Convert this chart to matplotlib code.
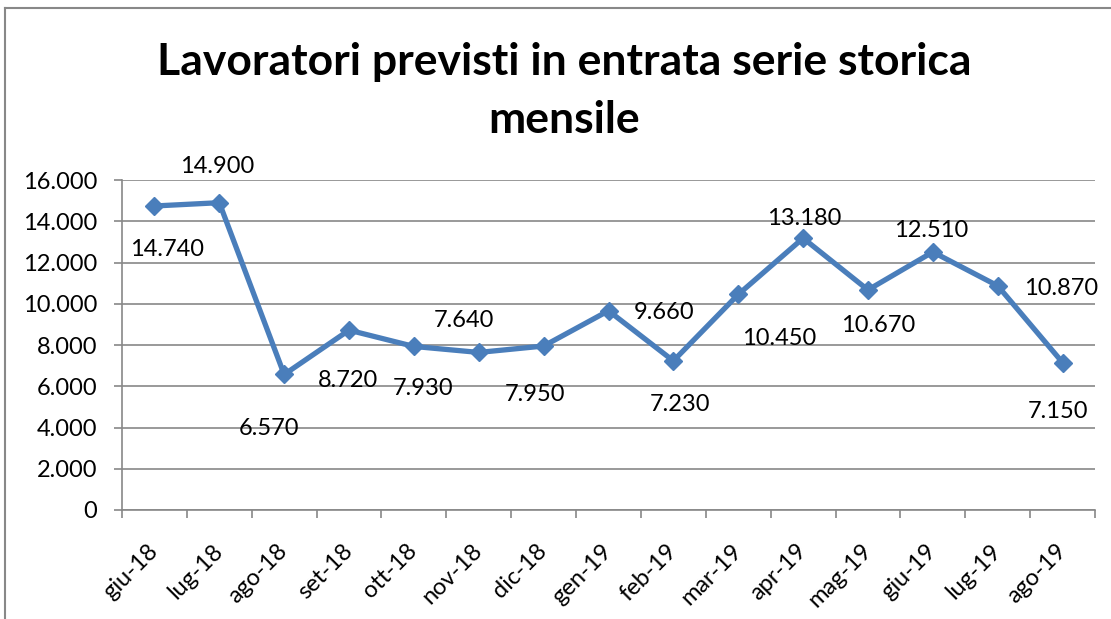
import matplotlib
matplotlib.use("Agg")
import matplotlib.pyplot as plt
from matplotlib.ticker import FuncFormatter, FixedLocator
from matplotlib.lines import Line2D

months = ["giu-18", "lug-18", "ago-18", "set-18", "ott-18", "nov-18", "dic-18",
          "gen-19", "feb-19", "mar-19", "apr-19", "mag-19", "giu-19", "lug-19", "ago-19"]
workers = [14740, 14900, 6570, 8720, 7930, 7640, 7950, 9660, 7230,
           10450, 13180, 10670, 12510, 10870, 7150]
y_ticks = [0, 2000, 4000, 6000, 8000, 10000, 12000, 14000, 16000]
title_lines = ["Lavoratori previsti in entrata serie storica", "mensile"]

# label offsets in pixels (dx right, dy down) relative to each point
label_offsets = [(13, 44), (-2, -36), (-15, 54), (-1, 50), (9, 42), (-15, -32),
                 (-9, 48), (56, 2), (7, 44), (41, 44), (1, -20), (10, 36),
                 (-2, -21), (63, 3), (-5, 49)]

FONT = "Lato"
GRAY = "#888888"
BLUE = "#4A7EBB"

def it_fmt(v, pos=None):
    return f"{v:,.0f}".replace(",", ".")

W, H = 1111, 619
fig = plt.figure(figsize=(W / 100, H / 100), dpi=100)
ax = fig.add_axes([122 / W, (H - 510) / H, (1095 - 122) / W, (510 - 180) / H])

x = list(range(len(months)))
ax.plot(x, workers, color=BLUE, lw=3.8, marker="D", markersize=9.5,
        markerfacecolor=BLUE, markeredgecolor=BLUE, zorder=3, clip_on=False)

ax.set_xlim(-0.5, len(months) - 0.5)
ax.set_ylim(0, 16000)

ax.yaxis.set_major_locator(FixedLocator(y_ticks))
ax.yaxis.set_major_formatter(FuncFormatter(it_fmt))
ax.grid(axis="y", color=GRAY, lw=1.2)
ax.set_axisbelow(True)

for s in ["top", "right"]:
    ax.spines[s].set_visible(False)
for s in ["left", "bottom"]:
    ax.spines[s].set_color(GRAY)
    ax.spines[s].set_linewidth(1.2)

ax.tick_params(axis="y", direction="out", length=6, width=1.2, color=GRAY,
               pad=12, labelsize=17)
ax.set_xticks(x)
ax.set_xticklabels(months, rotation=45, ha="right", va="center",
                   rotation_mode="anchor", fontsize=17, fontfamily=FONT)
ax.tick_params(axis="x", which="major", length=0, pad=27)
ax.set_xticks([i - 0.5 for i in range(len(months) + 1)], minor=True)
ax.tick_params(axis="x", which="minor", direction="out", length=6, width=1.2,
               color=GRAY)
for lab in ax.get_yticklabels():
    lab.set_fontfamily(FONT)

for xi, v, (dx, dy) in zip(x, workers, label_offsets):
    ax.annotate(it_fmt(v), (xi, v), xytext=(dx, -dy), textcoords="offset pixels",
                ha="center", va="center", fontsize=17, fontfamily=FONT,
                color="black", zorder=4)

fig.text(564 / W, (H - 75) / H, title_lines[0], ha="center", va="baseline",
         fontsize=32, fontweight="bold", fontfamily=FONT)
fig.text(564 / W, (H - 133) / H, title_lines[1], ha="center", va="baseline",
         fontsize=32, fontweight="bold", fontfamily=FONT)

# chart border
fig.add_artist(Line2D([5 / W, 1.0], [(H - 8) / H, (H - 8) / H],
                      transform=fig.transFigure, color=GRAY, lw=1.5))
fig.add_artist(Line2D([5 / W, 5 / W], [0, (H - 8) / H],
                      transform=fig.transFigure, color=GRAY, lw=1.5))

fig.savefig("out.png", dpi=100)
